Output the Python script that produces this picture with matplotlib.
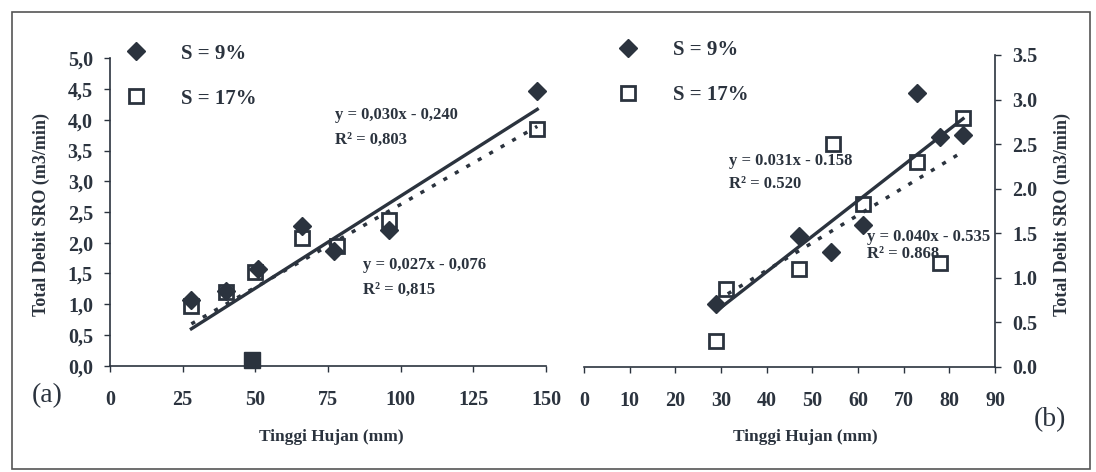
import numpy as np
import matplotlib
matplotlib.use("Agg")
import matplotlib.pyplot as plt
from matplotlib.patches import Rectangle

# ---- data (a) ----
xa_9 = [28, 40, 51, 66, 77, 96, 147]
ya_9 = [1.07, 1.22, 1.58, 2.27, 1.86, 2.2, 4.47]
xa_17 = [28, 40, 50, 66, 78, 96, 147]
ya_17 = [0.97, 1.2, 1.53, 2.07, 1.95, 2.37, 3.85]
xa_odd = [49]          # dark square sitting on the x axis
ya_odd = [0.09]
fit_a_9 = (0.030, -0.240)    # solid
fit_a_17 = (0.027, -0.076)   # dotted
range_a = (28, 147)

# ---- data (b) ----
xb_9 = [29, 47, 54, 61, 73, 78, 83]
yb_9 = [0.7, 1.47, 1.29, 1.59, 3.07, 2.58, 2.6]
xb_17 = [29, 31, 47, 54.5, 61, 73, 78, 83]
yb_17 = [0.29, 0.87, 1.1, 2.5, 1.83, 2.3, 1.17, 2.79]
fit_b_9 = (0.040, -0.535)    # solid
fit_b_17 = (0.031, -0.158)   # dotted
range_b = (29, 83)

ticks_a_x = [0, 25, 50, 75, 100, 125, 150]
ticks_a_y = [0.0, 0.5, 1.0, 1.5, 2.0, 2.5, 3.0, 3.5, 4.0, 4.5, 5.0]
ticks_b_x = [0, 10, 20, 30, 40, 50, 60, 70, 80, 90]
ticks_b_y = [0.0, 0.5, 1.0, 1.5, 2.0, 2.5, 3.0, 3.5]

C = "#2b333e"
FB = dict(family="Liberation Serif", weight="bold", color=C)

plt.rcParams["font.family"] = "Liberation Serif"

fig = plt.figure(figsize=(10.96, 4.72), dpi=100)
W, H = 1096.0, 472.0

ax1 = fig.add_axes([110 / W, (H - 365.7) / H, 436 / W, 307.4 / H])
ax2 = fig.add_axes([584 / W, (H - 366.7) / H, 411 / W, 311.7 / H])


def draw(ax, x9, y9, x17, y17, f9, f17, rng):
    xs = np.array(rng, dtype=float)
    ax.plot(xs, f9[0] * xs + f9[1], color=C, lw=2.4, zorder=2)
    ax.plot(xs, f17[0] * xs + f17[1], color=C, lw=2.5, ls=(0, (1.2, 2.6)),
            zorder=2)
    ax.plot(x9, y9, ls="none", marker="D", ms=9.5, color=C, mec=C,
            label="S = 9%", zorder=3)
    ax.plot(x17, y17, ls="none", marker="s", ms=10.5, mfc="none", mec=C,
            mew=2, label="S = 17%", zorder=3)


draw(ax1, xa_9, ya_9, xa_17, ya_17, fit_a_9, fit_a_17, range_a)
ax1.plot(xa_odd, ya_odd, ls="none", marker="s", ms=12, color=C, zorder=3,
         clip_on=False)
draw(ax2, xb_9, yb_9, xb_17, yb_17, fit_b_9, fit_b_17, range_b)

ax1.set_xlim(0, 150)
ax1.set_ylim(0, 5)
ax2.set_xlim(0, 90)
ax2.set_ylim(0, 3.5)

TS = 14.5
for ax in (ax1, ax2):
    ax.spines["top"].set_visible(False)
    ax.spines["bottom"].set_color(C)
    ax.spines["bottom"].set_linewidth(1.2)
    ax.tick_params(colors=C, width=1, length=4.3)
    ax.tick_params(axis="x", pad=13)

ax1.spines["right"].set_visible(False)
ax1.spines["left"].set_color(C)
ax1.spines["left"].set_linewidth(1.2)
ax1.tick_params(axis="y", pad=8)
ax1.set_xticks(ticks_a_x)
ax1.set_xticklabels([str(t) for t in ticks_a_x], fontsize=TS, **FB)
ax1.set_yticks(ticks_a_y)
ax1.set_yticklabels([f"{t:.1f}".replace(".", ",") for t in ticks_a_y],
                    fontsize=TS, **FB)

ax2.spines["left"].set_visible(False)
ax2.spines["right"].set_color(C)
ax2.spines["right"].set_linewidth(1.2)
ax2.yaxis.tick_right()
ax2.yaxis.set_label_position("right")
ax2.tick_params(axis="y", pad=8)
ax2.set_xticks(ticks_b_x)
ax2.set_xticklabels([str(t) for t in ticks_b_x], fontsize=TS, **FB)
ax2.set_yticks(ticks_b_y)
ax2.set_yticklabels([f"{t:.1f}" for t in ticks_b_y], fontsize=TS, **FB)

# axis labels
ylab = "Total Debit SRO (m3/min)"
fig.text(41 / W, 1 - 214 / H, ylab, rotation=90, ha="center", va="center",
         fontsize=13, **FB)
fig.text(1062 / W, 1 - 214 / H, ylab, rotation=90, ha="center", va="center",
         fontsize=13, **FB)
fig.text(331 / W, 1 - 437 / H, "Tinggi Hujan (mm)", ha="center",
         va="center", fontsize=12.5, **FB)
fig.text(805 / W, 1 - 437 / H, "Tinggi Hujan (mm)", ha="center",
         va="center", fontsize=12.5, **FB)
fig.text(47 / W, 1 - 396 / H, "(a)", ha="center", va="center", fontsize=20,
         color=C)
fig.text(1050 / W, 1 - 420 / H, "(b)", ha="center", va="center", fontsize=20,
         color=C)

# regression labels
EQ = dict(fontsize=12, ha="left", va="center", **FB)
ax1.text(77.4, 4.08, "y = 0,030x - 0,240", **EQ)
ax1.text(77.4, 3.68, "R² = 0,803", **EQ)
ax1.text(86.9, 1.64, "y = 0,027x - 0,076", **EQ)
ax1.text(86.9, 1.23, "R² = 0,815", **EQ)
ax2.text(31.8, 2.31, "y = 0.031x - 0.158", **EQ)
ax2.text(31.8, 2.05, "R² = 0.520", **EQ)
ax2.text(61.9, 1.46, "y = 0.040x - 0.535", **EQ)
ax2.text(61.9, 1.26, "R² = 0.868", **EQ)

# legends
for ax, x0 in ((ax1, (124.7 - 110) / 436), (ax2, (616.7 - 584) / 411)):
    leg = ax.legend(loc="upper left", bbox_to_anchor=(x0, 1.048),
                    frameon=False, numpoints=1, handlelength=1.1,
                    handletextpad=1.6, labelspacing=1.2, borderpad=0,
                    borderaxespad=0, prop=dict(family="Liberation Serif",
                                               weight="bold", size=15))
    for t in leg.get_texts():
        t.set_color(C)

# scan frame
fig.patches.append(Rectangle((12 / W, 1 - 469 / H), 1078 / W, 457 / H,
                             transform=fig.transFigure, fill=False,
                             ec="#555555", lw=1.2))

fig.savefig("out.png", dpi=100)
